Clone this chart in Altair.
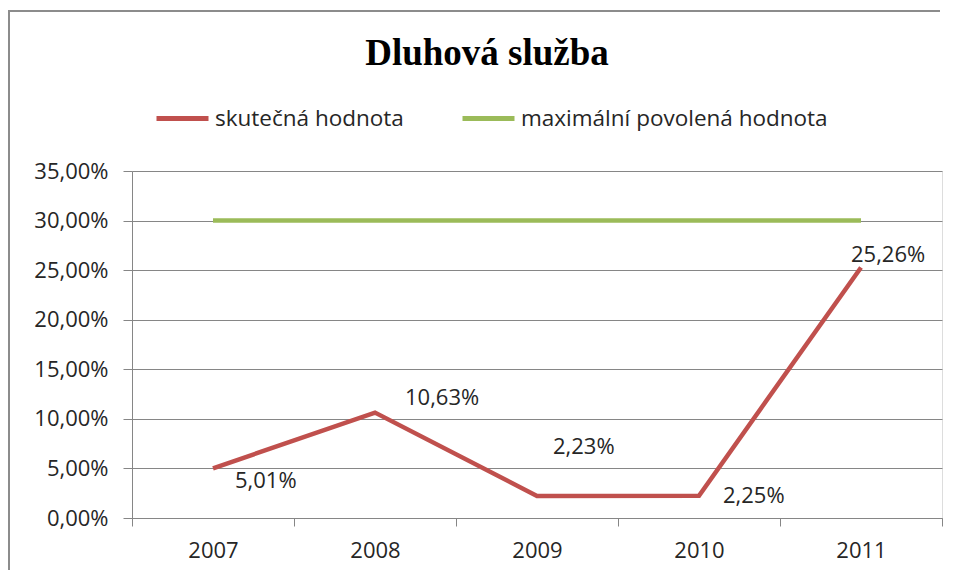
import altair as alt
import pandas as pd

# ---- data ----
years = ["2007", "2008", "2009", "2010", "2011"]
actual = [5.01, 10.63, 2.23, 2.25, 25.26]          # skutečná hodnota (%)
max_allowed = [30.0, 30.0, 30.0, 30.0, 30.0]       # maximální povolená hodnota (%)
series_names = ["skutečná hodnota", "maximální povolená hodnota"]
y_ticks = [0, 5, 10, 15, 20, 25, 30, 35]

rows = []
for y, a, m in zip(years, actual, max_allowed):
    rows.append({"year": y, "value": a / 100, "series": series_names[0]})
    rows.append({"year": y, "value": m / 100, "series": series_names[1]})
df = pd.DataFrame(rows)
df_act = df[df["series"] == series_names[0]].reset_index(drop=True)

FONT = "Open Sans"
TXT = "#262626"
GRAY = "#868686"

x_enc = alt.X(
    "year:N",
    sort=years,
    bandPosition=0.5,
    scale=alt.Scale(type="band", paddingInner=0, paddingOuter=0),
    axis=alt.Axis(
        title=None, tickBand="extent", tickSize=8, labelPadding=14,
        labelAngle=0, domainColor=GRAY, tickColor=GRAY,
        labelFont=FONT, labelFontSize=22, labelColor=TXT,
    ),
)
y_enc = alt.Y(
    "value:Q",
    scale=alt.Scale(domain=[0, 0.35], nice=False),
    axis=alt.Axis(
        title=None, values=[t / 100 for t in y_ticks], tickSize=9,
        labelPadding=15, grid=True, gridColor=GRAY, gridWidth=1,
        domainColor=GRAY, tickColor=GRAY,
        labelFont=FONT, labelFontSize=22, labelColor=TXT,
        labelExpr="replace(format(datum.value, '.2%'), '.', ',')",
    ),
)

lines = alt.Chart(df).mark_line(strokeWidth=4.5).encode(
    x=x_enc,
    y=y_enc,
    color=alt.Color(
        "series:N",
        scale=alt.Scale(domain=series_names, range=["#C0504D", "#9BBB59"]),
        legend=alt.Legend(
            title=None, orient="none", direction="horizontal",
            legendX=22, legendY=-81,
            symbolType="stroke", symbolSize=2704, symbolStrokeWidth=5,
            labelFont=FONT, labelFontSize=22.5, labelColor=TXT,
            labelOffset=4, columnPadding=48, labelLimit=0,
        ),
    ),
    detail="series:N",
)

# data labels (offsets mimic the Excel placement)
label_offsets = {
    "2007": (22, 13),
    "2008": (30, -15),
    "2009": (16, -49),
    "2010": (24, 0),
    "2011": (-10, -13),
}
label_layers = []
for yr in years:
    dx, dy = label_offsets[yr]
    label_layers.append(
        alt.Chart(df_act)
        .transform_filter(alt.datum.year == yr)
        .transform_calculate(label="replace(format(datum.value, '.2%'), '.', ',')")
        .mark_text(align="left", baseline="middle", dx=dx, dy=dy,
                   font=FONT, fontSize=22, color=TXT)
        .encode(x=x_enc, y=y_enc, text="label:N")
    )

# outer chart-area border (left and top edges visible in the reference)
frame_src = pd.DataFrame({"f": [0]})
frame_left = alt.Chart(frame_src).mark_rule(stroke="#8c8c8c", strokeWidth=2).encode(
    x=alt.value(-123), y=alt.value(-160), y2=alt.value(400)
)
frame_top = alt.Chart(frame_src).mark_rule(stroke="#8c8c8c", strokeWidth=2).encode(
    x=alt.value(-124), x2=alt.value(808), y=alt.value(-160)
)

chart = (
    alt.layer(frame_left, frame_top, lines, *label_layers)
    .properties(
        width=810,
        height=347,
        padding={"left": 124, "top": 163, "right": 9, "bottom": 52},
        autosize=alt.AutoSizeParams(type="none"),
        title=alt.TitleParams(
            "Dluhová služba", font="Liberation Serif", fontSize=37,
            fontWeight="bold", color="#000000", anchor="middle",
            frame="group", dx=-50, offset=-92, baseline="alphabetic",
        ),
    )
    .configure_view(strokeWidth=0, stroke="transparent")
    .configure(background="white")
)

chart.save("out.html", embed_options={"renderer": "svg", "actions": False})
